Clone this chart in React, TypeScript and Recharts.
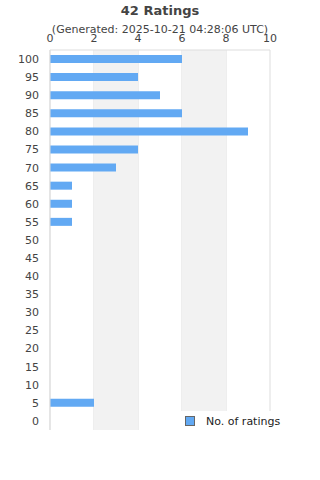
import React from "react";
import { BarChart, Bar, XAxis, YAxis, CartesianGrid, ReferenceArea } from "recharts";

const categories = ["100", "95", "90", "85", "80", "75", "70", "65", "60", "55", "50", "45", "40", "35", "30", "25", "20", "15", "10", "5", "0"];
const ratingCounts = [6, 4, 5, 6, 9, 4, 3, 1, 1, 1, 0, 0, 0, 0, 0, 0, 0, 0, 0, 2, 0];
const xTicks = [0, 2, 4, 6, 8, 10];
const bands = [[2, 4], [6, 8]];
const title = "42 Ratings";
const subtitle = "(Generated: 2025-10-21 04:28:06 UTC)";
const seriesName = "No. of ratings";

const data = categories.map((c, i) => ({ score: c, count: ratingCounts[i] }));

const FONT = "'DejaVu Sans', sans-serif";
const TEXT = "#444444";
const BAR = "#62a9f3";

export default function App() {
  return (
    <div style={{ position: "absolute", left: 0, top: 0, width: 320, height: 480, fontFamily: FONT, background: "#fff" }}>
      <BarChart
        width={320}
        height={480}
        data={data}
        layout="vertical"
        margin={{ top: 30, right: 50, bottom: 50, left: 0 }}
        barSize={8}
      >
        {bands.map(([a, b], i) => (
          <ReferenceArea key={i} x1={a} x2={b} fill="#f2f2f2" fillOpacity={1} stroke="none" ifOverflow="visible" />
        ))}
        <CartesianGrid horizontal={false} vertical={true} stroke="#dddddd" />
        <XAxis
          type="number"
          orientation="top"
          domain={[0, 10]}
          ticks={xTicks}
          height={20}
          tickLine={false}
          tickSize={0}
          tickMargin={8}
          axisLine={{ stroke: "#dddddd" }}
          tick={{ fill: TEXT, fontSize: 11, fontFamily: FONT }}
          interval={0}
        />
        <XAxis
          xAxisId="bottom"
          type="number"
          orientation="bottom"
          domain={[0, 10]}
          height={0}
          tick={false}
          tickLine={false}
          axisLine={{ stroke: "#dddddd" }}
        />
        <YAxis
          type="category"
          dataKey="score"
          width={50}
          tickLine={false}
          tickSize={0}
          tickMargin={11}
          axisLine={{ stroke: "#dddddd" }}
          tick={{ fill: TEXT, fontSize: 11, fontFamily: FONT }}
          interval={0}
        />
        <Bar dataKey="count" name={seriesName} fill={BAR} isAnimationActive={false} />
      </BarChart>
      <div style={{ position: "absolute", left: 0, top: 3, width: 320, textAlign: "center", fontSize: 13, fontWeight: "bold", color: TEXT }}>
        {title}
      </div>
      <div style={{ position: "absolute", left: 0, top: 23, width: 320, textAlign: "center", fontSize: 11, color: TEXT }}>
        {subtitle}
      </div>
      <div style={{ position: "absolute", left: 178, top: 411, width: 142, height: 20, background: "#fff", display: "flex", alignItems: "center" }}>
        <span style={{ display: "inline-block", width: 8, height: 8, background: BAR, border: "1px solid #666", marginLeft: 7 }} />
        <span style={{ marginLeft: 11, fontSize: 11, color: "#222" }}>{seriesName}</span>
      </div>
    </div>
  );
}
